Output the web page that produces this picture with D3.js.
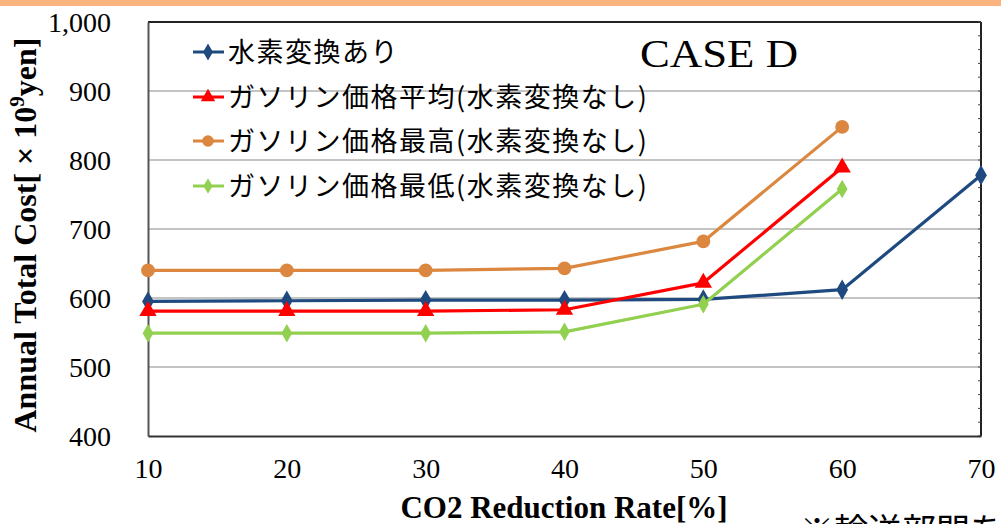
<!DOCTYPE html>
<html>
<head>
<meta charset="utf-8">
<script src="https://cdn.jsdelivr.net/npm/d3@7"></script>
<style>
  html, body { margin: 0; padding: 0; background: #fff; }
  svg { display: block; }
</style>
</head>
<body>
<svg id="chart" width="1001" height="524"></svg>
<script>
// CO2 reduction rate (%) on the x axis
const reductionRates = [10, 20, 30, 40, 50, 60, 70];
const xTicks = [10, 20, 30, 40, 50, 60, 70];
const yTicks = [400, 500, 600, 700, 800, 900, 1000];
const yGrid = [500, 600, 700, 800, 900];

// Annual total cost, 10^9 yen
const withHydrogen = [595, 596, 597, 597, 598, 612, 778];
const gasolineAvg  = [581, 581, 581, 583, 622, 789];
const gasolineHigh = [640, 640, 640, 643, 682, 848];
const gasolineLow  = [549, 549, 549, 551, 591, 758];

const seriesNames = [
  "水素変換あり",
  "ガソリン価格平均(水素変換なし)",
  "ガソリン価格最高(水素変換なし)",
  "ガソリン価格最低(水素変換なし)"
];

const series = [
  { name: seriesNames[0], values: withHydrogen, color: "#1f4a80", symbol: d3.symbolDiamond, size: 120 },
  { name: seriesNames[1], values: gasolineAvg,  color: "#ff0000", symbol: d3.symbolTriangle, size: 130 },
  { name: seriesNames[2], values: gasolineHigh, color: "#dc873f", symbol: d3.symbolCircle, size: 150 },
  { name: seriesNames[3], values: gasolineLow,  color: "#92d050", symbol: d3.symbolDiamond, size: 100 }
];

const svg = d3.select("#chart");
const serif = "'Liberation Serif', 'Times New Roman', serif";
const cjk = "'Noto Sans CJK JP', sans-serif";

// orange band along the top edge
svg.append("rect").attr("x", 0).attr("y", 0).attr("width", 1001).attr("height", 6)
  .attr("fill", "#fbb47f");

const x = d3.scaleLinear().domain([10, 70]).range([148, 981]);
const y = d3.scaleLinear().domain([400, 1000]).range([436, 22]);

// horizontal gridlines
svg.append("g").selectAll("line").data(yGrid).join("line")
  .attr("x1", x(10)).attr("x2", x(70))
  .attr("y1", d => y(d)).attr("y2", d => y(d))
  .attr("stroke", "#8a8a8a").attr("stroke-width", 1.2);

// frame: top and right borders
svg.append("line").attr("x1", x(10)).attr("x2", x(70)).attr("y1", y(1000)).attr("y2", y(1000))
  .attr("stroke", "#222").attr("stroke-width", 2.2);
svg.append("line").attr("x1", x(70)).attr("x2", x(70)).attr("y1", y(1000)).attr("y2", y(400))
  .attr("stroke", "#222").attr("stroke-width", 2);

// minor ticks on the right border
const minor = d3.range(400, 1001, 20);
svg.append("g").selectAll("line").data(minor).join("line")
  .attr("x1", x(70) - 3).attr("x2", x(70))
  .attr("y1", d => y(d)).attr("y2", d => y(d))
  .attr("stroke", "#444").attr("stroke-width", 1);

// y axis
const yAxis = svg.append("g").attr("transform", `translate(${x(10)},0)`)
  .call(d3.axisLeft(y).tickValues(yTicks).tickSize(0).tickPadding(37)
    .tickFormat(d3.format(",")));
yAxis.select(".domain").attr("stroke", "#555").attr("stroke-width", 2);
yAxis.selectAll("text").attr("font-family", serif).attr("font-size", 28).attr("fill", "#000")
  .attr("dy", "0.35em");

// x axis
const xAxis = svg.append("g").attr("transform", `translate(0,${y(400)})`)
  .call(d3.axisBottom(x).tickValues(xTicks).tickSize(0).tickPadding(22)
    .tickFormat(d3.format("d")));
xAxis.select(".domain").attr("stroke", "#333").attr("stroke-width", 2);
xAxis.selectAll("text").attr("font-family", serif).attr("font-size", 28).attr("fill", "#000");

// axis titles
svg.append("text")
  .attr("transform", "translate(36,235) rotate(-90)")
  .attr("text-anchor", "middle")
  .attr("font-family", serif).attr("font-weight", "bold").attr("font-size", 32)
  .call(t => {
    t.append("tspan").text("Annual Total Cost[ × 10");
    t.append("tspan").attr("font-size", 21).attr("dy", -12).text("9");
    t.append("tspan").attr("dy", 12).text("yen]");
  });

svg.append("text")
  .attr("x", 564).attr("y", 518)
  .attr("text-anchor", "middle")
  .attr("font-family", serif).attr("font-weight", "bold").attr("font-size", 31)
  .text("CO2 Reduction Rate[%]");

// lines and markers
const line = d3.line().x((d, i) => x(reductionRates[i])).y(d => y(d));
series.forEach(s => {
  svg.append("path").datum(s.values)
    .attr("d", line)
    .attr("fill", "none").attr("stroke", s.color).attr("stroke-width", 3.2)
    .attr("stroke-linejoin", "round");
  svg.append("g").selectAll("path").data(s.values).join("path")
    .attr("transform", (d, i) => `translate(${x(reductionRates[i])},${y(d)})`)
    .attr("d", d3.symbol().type(s.symbol).size(s.size))
    .attr("fill", s.color);
});

// legend
const legendRows = [52, 97, 141, 186];
const legend = svg.append("g");
series.forEach((s, i) => {
  const g = legend.append("g").attr("transform", `translate(0,${legendRows[i]})`);
  g.append("line").attr("x1", 193).attr("x2", 224).attr("y1", 0).attr("y2", 0)
    .attr("stroke", s.color).attr("stroke-width", 3);
  g.append("path").attr("transform", "translate(208,0)")
    .attr("d", d3.symbol().type(s.symbol).size(s.size * 0.7))
    .attr("fill", s.color);
  g.append("text").attr("x", 228).attr("y", 0).attr("dy", "0.36em")
    .attr("font-family", cjk).attr("font-size", 27).attr("letter-spacing", 1.5)
    .attr("fill", "#000")
    .text(s.name);
});

// case label
svg.append("text").attr("x", 640).attr("y", 67)
  .attr("font-family", serif).attr("font-size", 40)
  .attr("textLength", 158).attr("lengthAdjust", "spacingAndGlyphs")
  .text("CASE D");

// footnote running off the bottom edge
svg.append("text").attr("x", 800).attr("y", 543)
  .attr("font-family", cjk).attr("font-size", 34)
  .text("※輸送部門を");
</script>
</body>
</html>
